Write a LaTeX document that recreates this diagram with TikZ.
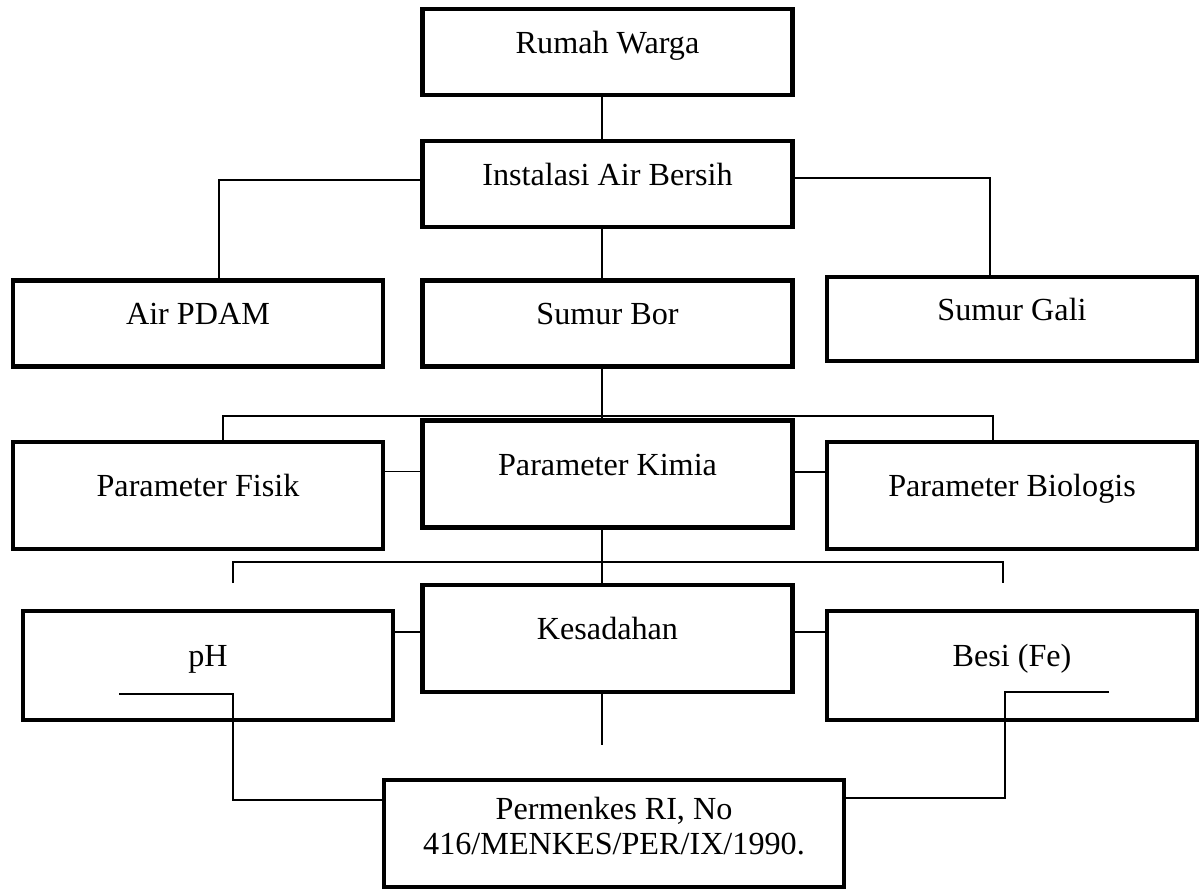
\documentclass[tikz,border=0pt]{standalone}
\usepackage{fontspec}
\setmainfont{Liberation Serif}
\usetikzlibrary{positioning}
\tikzset{box/.style = {rectangle,draw,line width=1.6pt,minimum width=138pt,minimum height=32pt,inner sep=0pt,font=\fontsize{12}{13}\selectfont,text height=9pt,text depth=8pt}}
\tikzset{link/.style = {line width=0.5pt}}
\begin{document}
\begin{tikzpicture}[x=0.373pt,y=-0.373pt]
        \useasboundingbox (0,0) rectangle (1202,893);
        \begin{scope}
            \node [box] (rumah)     at (607.5,  52)   {Rumah Warga};
            \node [box] (instalasi) at (607.5, 184)   {Instalasi Air Bersih};
            \node [box] (pdam)      at (198,   323.5) {Air PDAM};
            \node [box] (bor)       at (607.5, 323.5) {Sumur Bor};
            \node [box,minimum height=31.3pt] (gali) at (1012, 319) {Sumur Gali};
            \node [box,minimum height=40pt] (fisik)     at (198,   495.5) {Parameter Fisik};
            \node [box,minimum height=40pt] (kimia)     at (607.5, 474)   {Parameter Kimia};
            \node [box,minimum height=40pt] (biologis)  at (1012,  495.5) {Parameter Biologis};
            \node [box,minimum height=40pt] (kesadahan) at (607.5, 638.5) {Kesadahan};
            \node [box,minimum height=40.6pt] (ph)      at (208,   665.5) {pH};
            \node [box,minimum height=40.6pt] (besi)    at (1012,  665.5) {Besi (Fe)};
            \node [box,minimum width=171.6pt,minimum height=40pt,text height=,text depth=6pt,align=center] (permenkes) at (614, 833.5) {Permenkes RI, No\\416/MENKES/PER/IX/1990.};

            \coordinate (axis) at (602,0);
            \coordinate (jl) at (219,180);
            \coordinate (jr) at (990,178);
            \coordinate (bl) at (223,416);
            \coordinate (br) at (993,416);
            \coordinate (kl) at (233,562);
            \coordinate (kr) at (1003,562);
            \coordinate (kle) at (233,583);
            \coordinate (kre) at (1003,583);
            \coordinate (kend) at (602,745);
            \coordinate (pa) at (119,694);
            \coordinate (pb) at (233,694);
            \coordinate (pc) at (233,800);
            \coordinate (ba) at (1109,692);
            \coordinate (bb) at (1005,692);
            \coordinate (bc) at (1005,798);

            \draw [link] (rumah.south -| axis) -- (instalasi.north -| axis);
            \draw [link] (instalasi.west |- jl) -- (jl) -- (pdam.north -| jl);
            \draw [link] (instalasi.east |- jr) -- (jr) -- (gali.north -| jr);
            \draw [link] (instalasi.south -| axis) -- (bor.north -| axis);
            \draw [link] (bor.south -| axis) -- (kimia.north -| axis);
            \draw [link] (fisik.north -| bl) -- (bl) -- (br) -- (biologis.north -| br);
            \draw [link] ([yshift=1pt]kimia.west) -- ([yshift=1pt]kimia.west -| fisik.east);
            \draw [link] ([yshift=0.7pt]kimia.east) -- ([yshift=0.7pt]kimia.east -| biologis.west);
            \draw [link] (kimia.south -| axis) -- (kesadahan.north -| axis);
            \draw [link] (kle) -- (kl) -- (kr) -- (kre);
            \draw [link] ([yshift=2.4pt]kesadahan.west) -- ([yshift=2.4pt]kesadahan.west -| ph.east);
            \draw [link] ([yshift=2.4pt]kesadahan.east) -- ([yshift=2.4pt]kesadahan.east -| besi.west);
            \draw [link] (kesadahan.south -| axis) -- (kend);
            \draw [link] (pa) -- (pb) -- (pc) -- (pc -| permenkes.west);
            \draw [link] (ba) -- (bb) -- (bc) -- (bc -| permenkes.east);
        \end{scope}
\end{tikzpicture}
\end{document}
